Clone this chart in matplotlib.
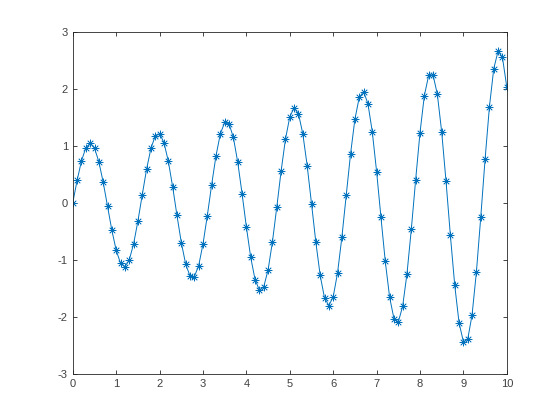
import matplotlib
matplotlib.use("Agg")
import matplotlib.pyplot as plt

plt.rcParams["axes.unicode_minus"] = False
plt.rcParams["font.family"] = ["Liberation Sans", "DejaVu Sans"]

x_vals = [i / 10 for i in range(101)]
y_vals = [
    0.000, 0.393, 0.732, 0.960, 1.040, 0.956, 0.717, 0.359, -0.063, -0.484,
    -0.836, -1.062, -1.123, -1.006, -0.726, -0.325, 0.137, 0.586, 0.950, 1.170,
    1.208, 1.054, 0.729, 0.281, -0.222, -0.699, -1.075, -1.285, -1.297, -1.106,
    -0.724, -0.226, 0.318, 0.824, 1.208, 1.406, 1.384, 1.142, 0.711, 0.159,
    -0.430, -0.961, -1.351, -1.533, -1.473, -1.178, -0.686, -0.079, 0.555, 1.113,
    1.505, 1.663, 1.559, 1.206, 0.651, -0.015, -0.692, -1.276, -1.670, -1.803,
    -1.650, -1.232, -0.606, 0.128, 0.856, 1.461, 1.845, 1.948, 1.736, 1.245,
    0.546, -0.255, -1.031, -1.658, -2.034, -2.092, -1.817, -1.246, -0.466, 0.402,
    1.227, 1.875, 2.232, 2.241, 1.898, 1.238, 0.371, -0.572, -1.446, -2.107,
    -2.439, -2.393, -1.965, -1.213, -0.253, 0.766, 1.684, 2.351, 2.659, 2.545,
    2.025,
]
x_ticks = list(range(0, 11))
y_ticks = [-3, -2, -1, 0, 1, 2, 3]

fig = plt.figure(figsize=(5.6, 4.2), dpi=100)
ax = fig.add_axes([0.13, 0.11, 0.775, 0.815])

ax.plot(x_vals, y_vals, color="#0072BD", linewidth=0.7,
        marker=(8, 2, 0), markersize=5.5, markeredgewidth=0.5)

ax.set_xlim(0, 10)
ax.set_ylim(-3, 3)
ax.set_xticks(x_ticks)
ax.set_yticks(y_ticks)
ax.tick_params(direction="in", length=3, width=0.6, labelsize=8,
               colors="#262626", labelcolor="#404040", top=True, right=True)
for s in ax.spines.values():
    s.set_linewidth(0.6)
    s.set_color("#262626")

fig.savefig("out.png", dpi=100)
